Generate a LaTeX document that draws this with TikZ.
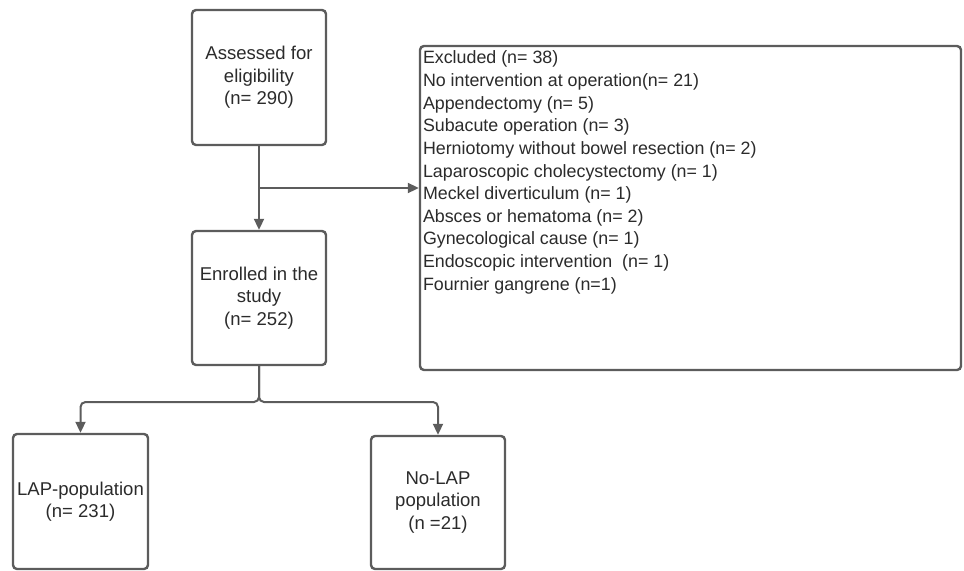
\documentclass[tikz,border=0pt]{standalone}
\usepackage{fontspec}
\setmainfont{Liberation Sans}
\usepackage{tikz}
\usetikzlibrary{arrows.meta}
\definecolor{linegray}{HTML}{5C5C5C}
\definecolor{textgray}{HTML}{2B2B2B}

\begin{document}
\begin{tikzpicture}[
  box/.style={draw=linegray,line width=2.4bp,rounded corners=4bp,fill=white,text=textgray,align=center,
    font=\fontsize{18.6}{22.5}\selectfont,inner sep=3bp},
  conn/.style={draw=linegray,line width=2bp,-{Triangle[length=11bp,width=10bp]}}
]
\useasboundingbox (0bp,0bp) rectangle (964bp,-571bp);

\node (Assess) at (259bp,-77.5bp)[box,minimum width=134bp,minimum height=135bp] {Assessed for\\eligibility\\(n= 290)};
\node (Enrol) at (259bp,-298bp)[box,minimum width=134bp,minimum height=134bp] {Enrolled in the\\study\\(n= 252)};
\node (Excl) at (690.5bp,-208bp)[box,minimum width=541bp,minimum height=324bp,inner sep=2.5bp,
  font=\fontsize{17.9}{22.7}\selectfont] {%
\begin{minipage}[c][318bp][t]{535bp}\vspace*{2bp}
Excluded (n= 38)\\
No intervention at operation(n= 21)\\
Appendectomy (n= 5)\\
Subacute operation (n= 3)\\
Herniotomy without bowel resection (n= 2)\\
Laparoscopic cholecystectomy (n= 1)\\
Meckel diverticulum (n= 1)\\
Absces or hematoma (n= 2)\\
Gynecological cause (n= 1)\\
Endoscopic intervention\ \ (n= 1)\\
Fournier gangrene (n=1)
\end{minipage}};
\node (LAP) at (80.5bp,-501.5bp)[box,minimum width=135bp,minimum height=135bp] {LAP-population\\(n= 231)};
\node (NoLAP) at (438bp,-502.5bp)[box,minimum width=134bp,minimum height=133bp] {No-LAP\\population\\(n =21)};

\coordinate (Split) at (259bp,-188bp);
\coordinate (Fork) at (259bp,-402bp);

\draw [conn] (Assess) -- (Enrol);
\draw [conn] (Split) -- (Split -| Excl.west);
\draw [conn,rounded corners=5bp] (Enrol.south) -- (Fork) -| (LAP.north);
\draw [conn,rounded corners=5bp] (Enrol.south) -- (Fork) -| (NoLAP.north);
\end{tikzpicture}
\end{document}
